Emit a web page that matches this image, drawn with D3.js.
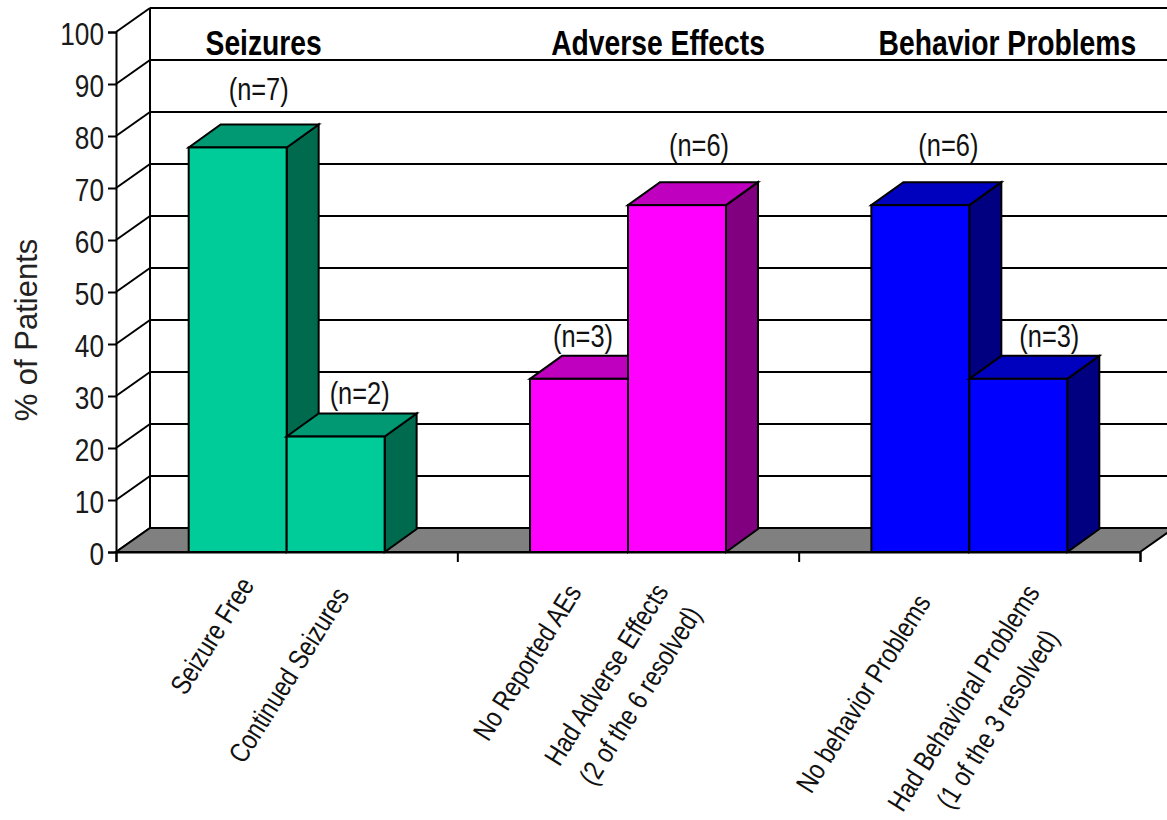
<!DOCTYPE html>
<html>
<head>
<meta charset="utf-8">
<script src="https://cdn.jsdelivr.net/npm/d3@7"></script>
<style>
  html, body { margin: 0; padding: 0; background: #fff; }
  svg { display: block; }
  text { font-family: "Liberation Sans", Arial, sans-serif; }
</style>
</head>
<body>
<svg id="chart" width="1167" height="820"></svg>
<script>
// ---- data ----
const groups = ["Seizures", "Adverse Effects", "Behavior Problems"];
const categories = [
  ["Seizure Free"],
  ["Continued Seizures"],
  ["No Reported AEs"],
  ["Had Adverse Effects", "(2 of the 6 resolved)"],
  ["No behavior Problems"],
  ["Had Behavioral Problems", "(1 of the 3 resolved)"]
];
const categoryGroup = [0, 0, 1, 1, 2, 2];
const percentPatients = [77.8, 22.2, 33.3, 66.7, 66.7, 33.3];
const patientCounts = [7, 2, 3, 6, 6, 3];
const yTicks = [0, 10, 20, 30, 40, 50, 60, 70, 80, 90, 100];

// ---- layout ----
const plot = { left: 116, right: 1140, bottom: 552, top: 32 };
const wallDepth = { dx: 34, dy: -24 };
const barDepth = { dx: 32, dy: -23 };
const narrow = 0.82;   // horizontal squeeze giving a condensed face
const colors = [
  { front: "#00CC99", top: "#009973", side: "#006A4F" },
  { front: "#FF00FF", top: "#BF00BF", side: "#800080" },
  { front: "#0000FF", top: "#0000BF", side: "#000080" }
];
// per-label nudges for the (n=..) annotations, relative to the bar's front top
const nLabelDx = [21, 24, 4, 22, 28, 31];
const nLabelRise = [59, 44, 43, 60, 60, 43];
// title centres relative to their group's centre
const titleDx = [-23, 30, 38];
// rotated category label blocks: centre of the block's upper end,
// x relative to the bar centre, y absolute
const catLabelDx = [9, 6, -5, 1, 3, 31];
const catLabelY = [580, 590, 587, 597, 597, 598];

const svg = d3.select("#chart");

const y = d3.scaleLinear().domain([0, 100]).range([plot.bottom, plot.top]);
const xGroup = d3.scaleBand().domain(d3.range(groups.length)).range([plot.left, plot.right]);
const xInner = d3.scaleBand().domain([0, 1]).range([0, xGroup.bandwidth()]).paddingInner(0).paddingOuter(0.742);

const barX = i => xGroup(categoryGroup[i]) + xInner(i % 2);
const bw = xInner.bandwidth();

// condensed text helper: a group placed at (x, y), squeezed horizontally
function narrowText(parent, x, yPos, str, opts) {
  const g = parent.append("g").attr("transform", `translate(${x},${yPos}) scale(${narrow},1)`);
  return g.append("text")
    .attr("text-anchor", opts.anchor || "middle")
    .attr("font-size", opts.size)
    .attr("font-weight", opts.weight || "normal")
    .attr("fill", opts.fill || "#111")
    .attr("dy", opts.dy || 0)
    .text(str);
}

// ---- back wall gridlines ----
const wall = svg.append("g").attr("stroke", "#000").attr("stroke-width", 2).attr("fill", "none");
const wx0 = plot.left + wallDepth.dx, wx1 = plot.right + wallDepth.dx;
yTicks.filter(t => t > 0).forEach(t => {
  wall.append("line")
    .attr("x1", wx0).attr("x2", wx1)
    .attr("y1", y(t) + wallDepth.dy).attr("y2", y(t) + wallDepth.dy);
});
wall.append("line")
  .attr("x1", wx0).attr("x2", wx0)
  .attr("y1", y(0) + wallDepth.dy).attr("y2", y(100) + wallDepth.dy);

// diagonal side-wall lines from the axis to the back wall
yTicks.forEach(t => {
  wall.append("line")
    .attr("x1", plot.left).attr("y1", y(t))
    .attr("x2", wx0).attr("y2", y(t) + wallDepth.dy);
});

// ---- floor ----
svg.append("polygon")
  .attr("points", [
    [plot.left, y(0)], [plot.right, y(0)],
    [plot.right + wallDepth.dx, y(0) + wallDepth.dy], [wx0, y(0) + wallDepth.dy]
  ].map(p => p.join(",")).join(" "))
  .attr("fill", "#808080").attr("stroke", "#000").attr("stroke-width", 2);

// ---- bars ----
const bars = svg.append("g").attr("stroke", "#000").attr("stroke-width", 2);
percentPatients.forEach((v, i) => {
  const x0 = barX(i), x1 = x0 + bw, yt = y(v), yb = y(0);
  const c = colors[categoryGroup[i]];
  const g = bars.append("g");
  g.append("polygon")
    .attr("points", [[x1, yt], [x1 + barDepth.dx, yt + barDepth.dy], [x1 + barDepth.dx, yb + barDepth.dy], [x1, yb]].map(p => p.join(",")).join(" "))
    .attr("fill", c.side);
  g.append("polygon")
    .attr("points", [[x0, yt], [x0 + barDepth.dx, yt + barDepth.dy], [x1 + barDepth.dx, yt + barDepth.dy], [x1, yt]].map(p => p.join(",")).join(" "))
    .attr("fill", c.top);
  g.append("rect")
    .attr("x", x0).attr("y", yt).attr("width", bw).attr("height", yb - yt)
    .attr("fill", c.front);
});

// ---- value axis ----
const yAxis = d3.axisLeft(y).tickValues(yTicks).tickSize(8).tickFormat("");
const ya = svg.append("g").attr("transform", `translate(${plot.left},0)`).call(yAxis);
ya.select(".domain").attr("stroke", "#000").attr("stroke-width", 2);
ya.selectAll(".tick line").attr("stroke", "#000").attr("stroke-width", 2);
yTicks.forEach(t => {
  narrowText(svg, 104, y(t), d3.format("d")(t), { anchor: "end", size: 32, dy: "0.42em", fill: "#1a1a1a" });
});

// ---- category axis ----
const xa = svg.append("g").attr("transform", `translate(0,${plot.bottom})`)
  .call(d3.axisBottom(d3.scaleLinear().domain([0, 3]).range([plot.left, plot.right]))
    .tickValues([0, 1, 2, 3]).tickSize(10).tickFormat(""));
xa.select(".domain").attr("stroke", "#000").attr("stroke-width", 2);
xa.selectAll(".tick line").attr("stroke", "#000").attr("stroke-width", 2);

// ---- axis title ----
svg.append("text")
  .attr("transform", "translate(37,330) rotate(-90)")
  .attr("text-anchor", "middle")
  .attr("font-size", 31).attr("fill", "#222")
  .text("% of Patients");

// ---- group titles ----
groups.forEach((g, k) => {
  narrowText(svg, xGroup(k) + xGroup.bandwidth() / 2 + titleDx[k], 55, g,
    { anchor: "middle", size: 34.5, weight: "bold", fill: "#000" });
});

// ---- (n=..) annotations ----
patientCounts.forEach((n, i) => {
  narrowText(svg, barX(i) + bw / 2 + nLabelDx[i], y(percentPatients[i]) - nLabelRise[i], `(n=${n})`,
    { anchor: "middle", size: 31, dy: "0.36em" });
});

// ---- rotated category labels (lines centred on each other) ----
const angle = -58, fs = 28, lh = 40;
categories.forEach((lines, i) => {
  const cx = barX(i) + bw / 2 + catLabelDx[i];
  const g = svg.append("g")
    .attr("transform", `translate(${cx},${catLabelY[i]}) rotate(${angle}) scale(${narrow},1)`);
  const texts = lines.map((l, j) => g.append("text")
    .attr("font-size", fs).attr("fill", "#111")
    .attr("text-anchor", "middle")
    .attr("y", (j - (lines.length - 1) / 2) * lh)
    .attr("dy", "0.35em")
    .text(l));
  const widths = texts.map(t => t.node().getComputedTextLength());
  const maxW = d3.max(widths);
  texts.forEach(t => t.attr("x", -maxW / 2));
});
</script>
</body>
</html>
